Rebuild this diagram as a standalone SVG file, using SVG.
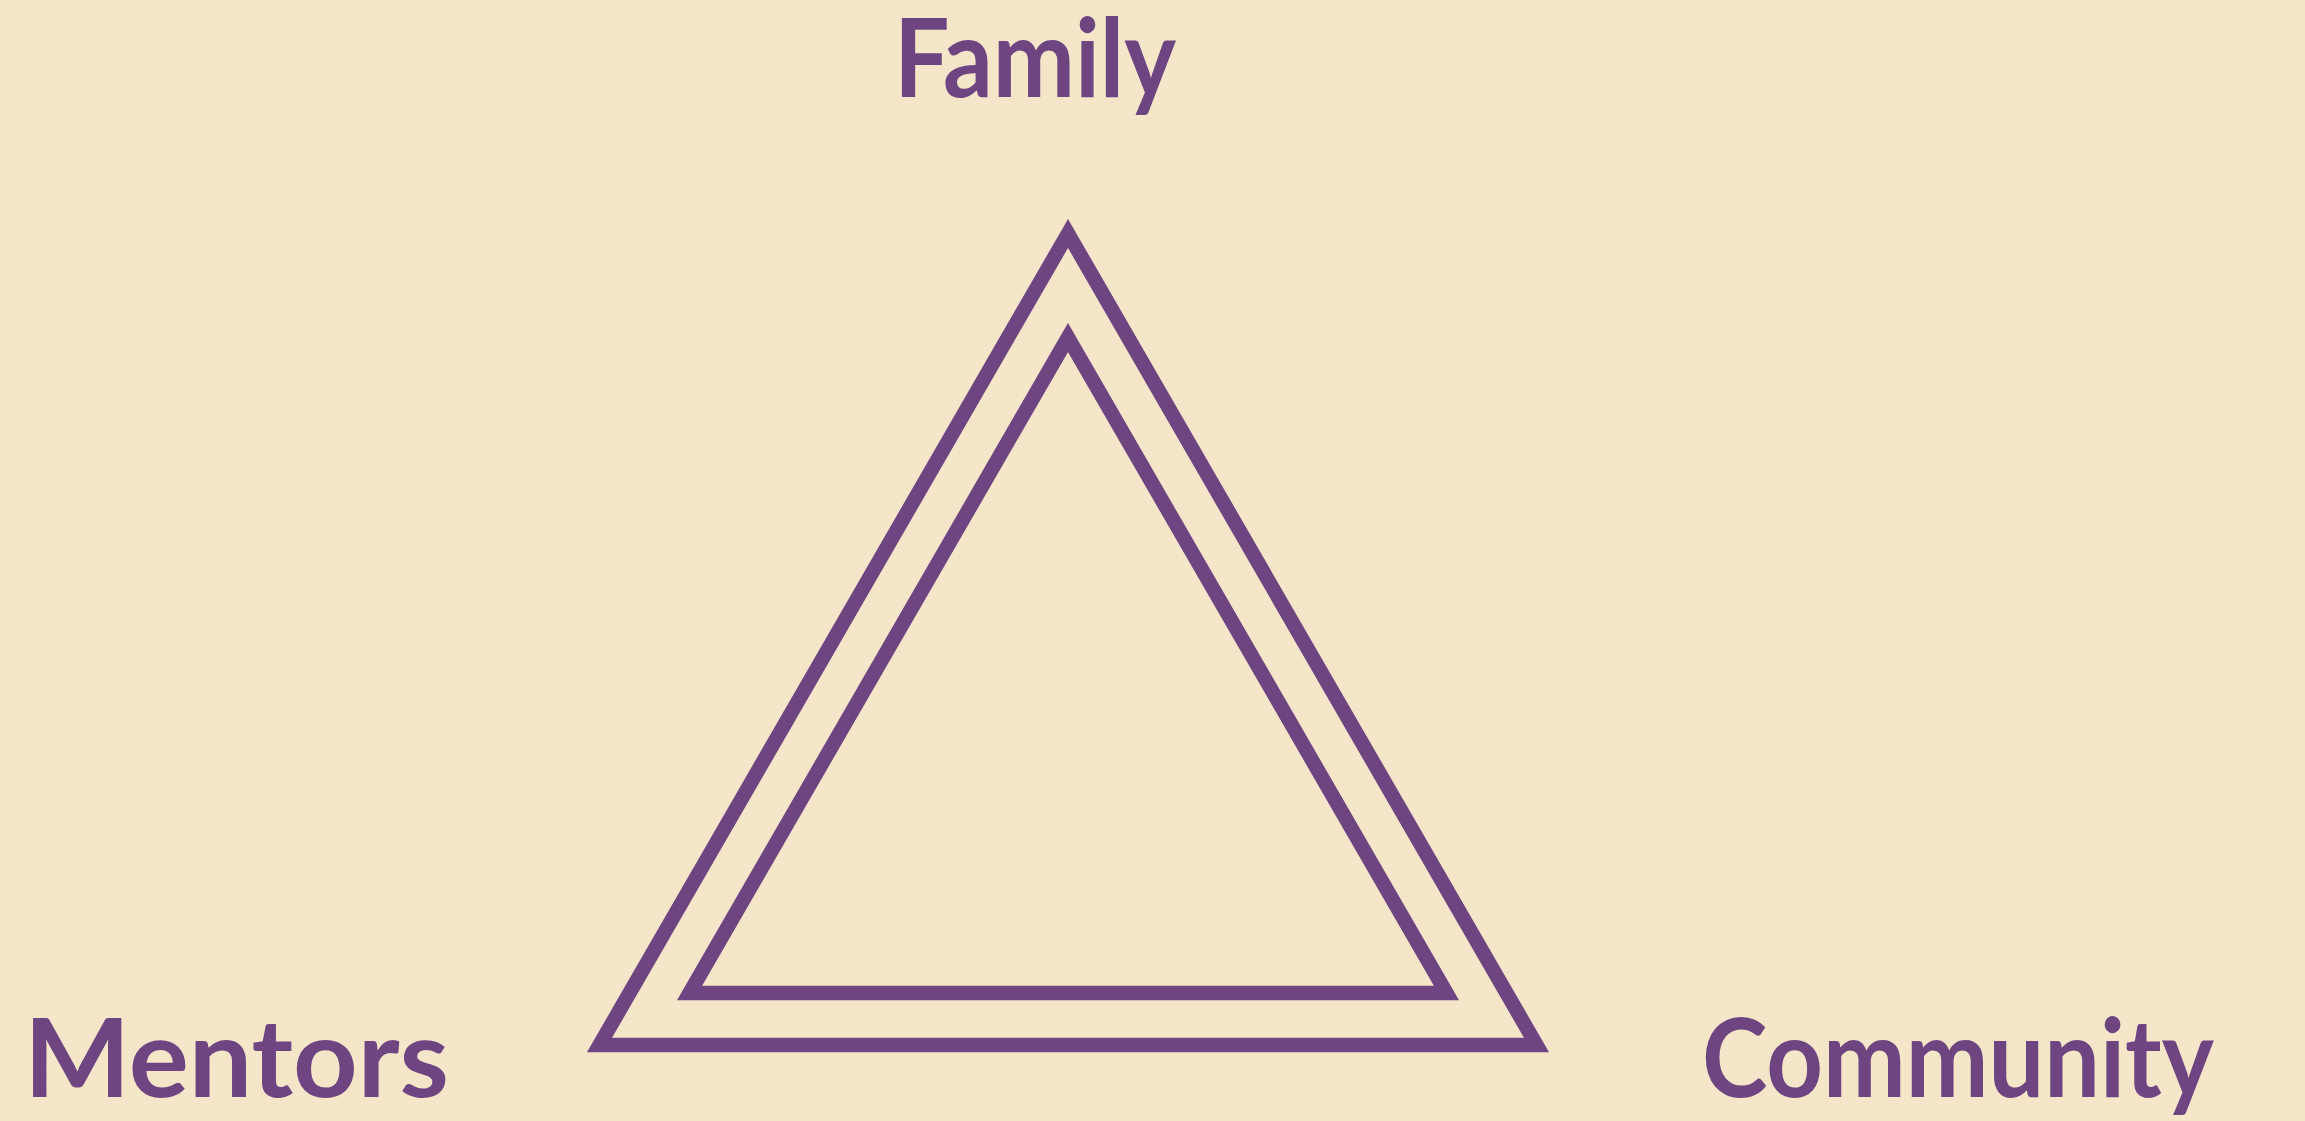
<svg xmlns="http://www.w3.org/2000/svg" width="2305" height="1121" viewBox="0 0 2305 1121">
<style>
.lbl{font-family:Lato,"Noto Sans","DejaVu Sans",sans-serif;font-weight:700;font-size:110px;fill:#6E4580}
.tri{fill:none;stroke:#6E4580;stroke-width:14.5;stroke-linejoin:miter;stroke-miterlimit:10}
</style>
<rect width="2305" height="1121" fill="#F5E6CA"/>
<g id="connectors">
<polygon id="outer" class="tri" points="1068,233.5 599.5,1045 1536.5,1045"/>
<polygon id="inner" class="tri" points="1068,337.5 689.5,993 1446.5,993"/>
</g>
<g id="family"><text class="lbl" x="894" y="97" textLength="282" lengthAdjust="spacingAndGlyphs">Family</text></g>
<g id="mentors"><text class="lbl" x="24" y="1097" textLength="425" lengthAdjust="spacingAndGlyphs">Mentors</text></g>
<g id="community"><text class="lbl" x="1702" y="1097" textLength="512" lengthAdjust="spacingAndGlyphs">Community</text></g>
</svg>
